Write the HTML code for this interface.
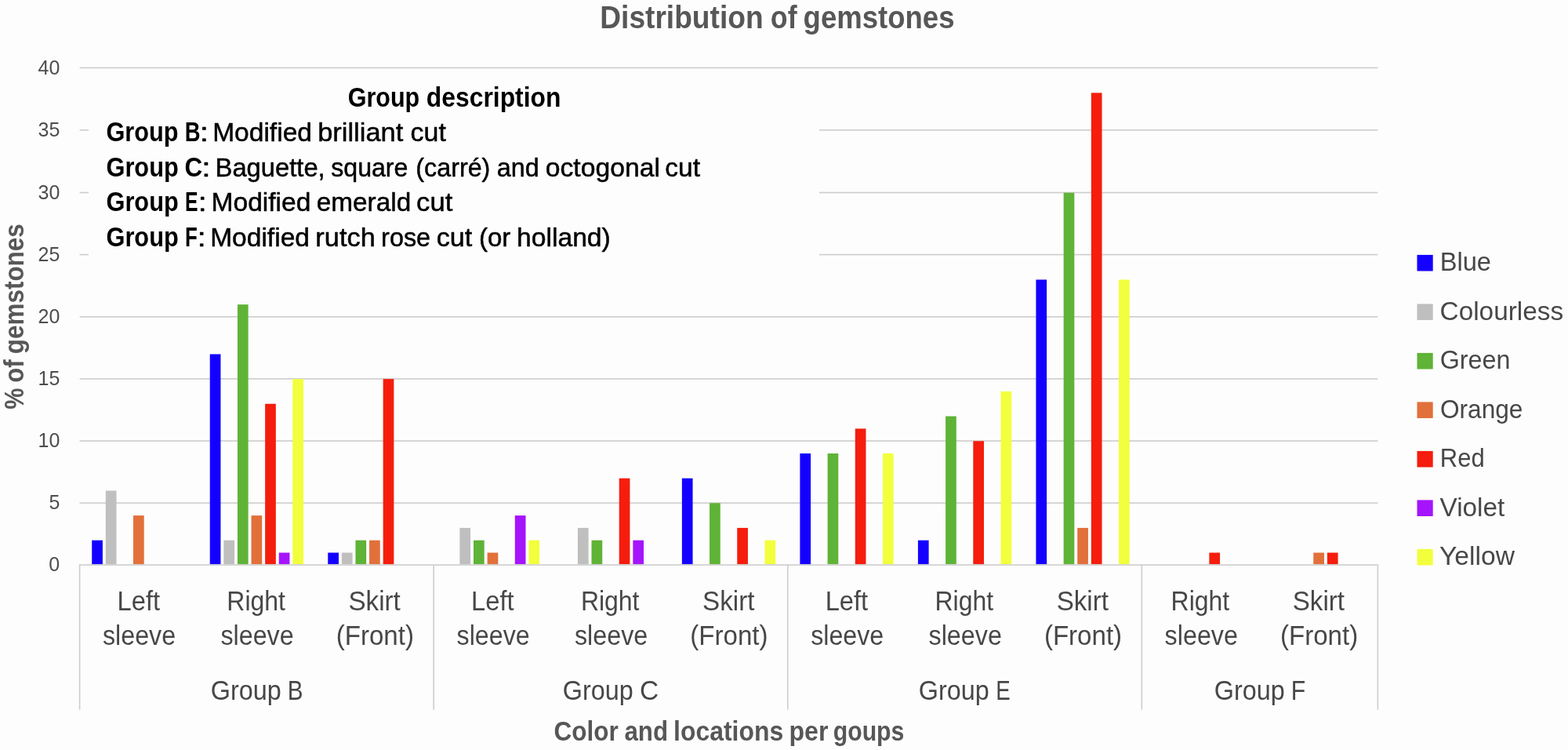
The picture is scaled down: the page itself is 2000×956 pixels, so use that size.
<!DOCTYPE html>
<html lang="en">
<head>
<meta charset="utf-8">
<title>Distribution of gemstones</title>
<style>
html,body{margin:0;padding:0;background:#fdfdfd;}
body{width:2000px;height:956px;overflow:hidden;}
svg{display:block;font-family:"Liberation Sans",Arial,Helvetica,sans-serif;}
text{white-space:pre;}
</style>
</head>
<body>
<svg width="2000" height="956" viewBox="0 0 2000 956">
<rect x="0" y="0" width="2000" height="956" fill="#fdfdfd"/>
<g class="gridlines">
<rect x="101.60" y="640.30" width="1655.80" height="1.60" fill="#cdcdcd"/>
<rect x="101.60" y="561.20" width="1655.80" height="1.60" fill="#cdcdcd"/>
<rect x="101.60" y="482.10" width="1655.80" height="1.60" fill="#cdcdcd"/>
<rect x="101.60" y="403.00" width="1655.80" height="1.60" fill="#cdcdcd"/>
<rect x="101.60" y="323.80" width="1655.80" height="1.60" fill="#cdcdcd"/>
<rect x="101.60" y="244.70" width="1655.80" height="1.60" fill="#cdcdcd"/>
<rect x="101.60" y="165.00" width="1655.80" height="1.60" fill="#cdcdcd"/>
<rect x="101.60" y="85.60" width="1655.80" height="1.60" fill="#cdcdcd"/>
</g>
<g class="group-description-box">
<rect x="113.00" y="96.00" width="932.00" height="240.00" fill="#fdfdfd"/>
</g>
<g class="bars">
<rect x="117.21" y="688.70" width="13.70" height="30.60" fill="#1400ff"/>
<rect x="134.81" y="625.48" width="13.70" height="93.82" fill="#bfbfbf"/>
<rect x="170.01" y="657.10" width="13.70" height="62.20" fill="#e2703a"/>
<rect x="267.74" y="451.46" width="13.70" height="267.84" fill="#1400ff"/>
<rect x="285.34" y="688.70" width="13.70" height="30.60" fill="#bfbfbf"/>
<rect x="302.94" y="388.16" width="13.70" height="331.14" fill="#5fb336"/>
<rect x="320.54" y="657.10" width="13.70" height="62.20" fill="#e2703a"/>
<rect x="338.14" y="514.74" width="13.70" height="204.56" fill="#f51d0d"/>
<rect x="355.74" y="704.50" width="13.70" height="14.80" fill="#a514fc"/>
<rect x="373.34" y="483.10" width="13.70" height="236.20" fill="#f2ff3c"/>
<rect x="418.27" y="704.50" width="13.70" height="14.80" fill="#1400ff"/>
<rect x="435.87" y="704.50" width="13.70" height="14.80" fill="#bfbfbf"/>
<rect x="453.47" y="688.70" width="13.70" height="30.60" fill="#5fb336"/>
<rect x="471.07" y="688.70" width="13.70" height="30.60" fill="#e2703a"/>
<rect x="488.67" y="483.10" width="13.70" height="236.20" fill="#f51d0d"/>
<rect x="586.40" y="672.90" width="13.70" height="46.40" fill="#bfbfbf"/>
<rect x="604.00" y="688.70" width="13.70" height="30.60" fill="#5fb336"/>
<rect x="621.60" y="704.50" width="13.70" height="14.80" fill="#e2703a"/>
<rect x="656.80" y="657.10" width="13.70" height="62.20" fill="#a514fc"/>
<rect x="674.40" y="688.70" width="13.70" height="30.60" fill="#f2ff3c"/>
<rect x="736.92" y="672.90" width="13.70" height="46.40" fill="#bfbfbf"/>
<rect x="754.52" y="688.70" width="13.70" height="30.60" fill="#5fb336"/>
<rect x="789.72" y="609.66" width="13.70" height="109.64" fill="#f51d0d"/>
<rect x="807.32" y="688.70" width="13.70" height="30.60" fill="#a514fc"/>
<rect x="869.85" y="609.66" width="13.70" height="109.64" fill="#1400ff"/>
<rect x="905.05" y="641.30" width="13.70" height="78.00" fill="#5fb336"/>
<rect x="940.25" y="672.90" width="13.70" height="46.40" fill="#f51d0d"/>
<rect x="975.45" y="688.70" width="13.70" height="30.60" fill="#f2ff3c"/>
<rect x="1020.38" y="578.02" width="13.70" height="141.28" fill="#1400ff"/>
<rect x="1055.58" y="578.02" width="13.70" height="141.28" fill="#5fb336"/>
<rect x="1090.78" y="546.38" width="13.70" height="172.92" fill="#f51d0d"/>
<rect x="1125.98" y="578.02" width="13.70" height="141.28" fill="#f2ff3c"/>
<rect x="1170.90" y="688.70" width="13.70" height="30.60" fill="#1400ff"/>
<rect x="1206.10" y="530.56" width="13.70" height="188.74" fill="#5fb336"/>
<rect x="1241.30" y="562.20" width="13.70" height="157.10" fill="#f51d0d"/>
<rect x="1276.50" y="498.92" width="13.70" height="220.38" fill="#f2ff3c"/>
<rect x="1321.43" y="356.48" width="13.70" height="362.82" fill="#1400ff"/>
<rect x="1356.63" y="245.70" width="13.70" height="473.60" fill="#5fb336"/>
<rect x="1374.23" y="672.90" width="13.70" height="46.40" fill="#e2703a"/>
<rect x="1391.83" y="118.36" width="13.70" height="600.94" fill="#f51d0d"/>
<rect x="1427.03" y="356.48" width="13.70" height="362.82" fill="#f2ff3c"/>
<rect x="1542.36" y="704.50" width="13.70" height="14.80" fill="#f51d0d"/>
<rect x="1675.29" y="704.50" width="13.70" height="14.80" fill="#e2703a"/>
<rect x="1692.89" y="704.50" width="13.70" height="14.80" fill="#f51d0d"/>
</g>
<g class="axis-lines">
<rect x="100.80" y="719.30" width="1657.40" height="1.60" fill="#cdcdcd"/>
<rect x="100.80" y="720.10" width="1.60" height="184.50" fill="#cdcdcd"/>
<rect x="552.38" y="720.10" width="1.60" height="184.50" fill="#cdcdcd"/>
<rect x="1003.96" y="720.10" width="1.60" height="184.50" fill="#cdcdcd"/>
<rect x="1455.55" y="720.10" width="1.60" height="184.50" fill="#cdcdcd"/>
<rect x="1756.60" y="720.10" width="1.60" height="184.50" fill="#cdcdcd"/>
</g>
<g class="chart-title">
<text font-size="40.3" fill="#575757" font-weight="700" y="36.3"><tspan x="765.27" textLength="208.32" lengthAdjust="spacingAndGlyphs">Distribution</tspan> <tspan x="982.87" textLength="33.77" lengthAdjust="spacingAndGlyphs">of</tspan> <tspan x="1024.61" textLength="192.87" lengthAdjust="spacingAndGlyphs">gemstones</tspan></text>
</g>
<g class="y-axis-labels">
<text font-size="25.0" fill="#4d4d4d" y="728.2"><tspan x="62.3">0</tspan></text>
<text font-size="25.0" fill="#4d4d4d" y="649.2"><tspan x="62.55">5</tspan></text>
<text font-size="25.0" fill="#4d4d4d" y="570.1"><tspan x="48.55">10</tspan></text>
<text font-size="25.0" fill="#4d4d4d" y="491"><tspan x="48.55">15</tspan></text>
<text font-size="25.0" fill="#4d4d4d" y="411.9"><tspan x="48.55">20</tspan></text>
<text font-size="25.0" fill="#4d4d4d" y="332.7"><tspan x="48.55">25</tspan></text>
<text font-size="25.0" fill="#4d4d4d" y="253.6"><tspan x="48.55">30</tspan></text>
<text font-size="25.0" fill="#4d4d4d" y="173.9"><tspan x="48.55">35</tspan></text>
<text font-size="25.0" fill="#4d4d4d" y="94.5"><tspan x="48.55">40</tspan></text>
</g>
<g class="group-description">
<text font-size="34.5" fill="#000" font-weight="700" y="135.6"><tspan x="443.67" textLength="91.54" lengthAdjust="spacingAndGlyphs">Group</tspan> <tspan x="543.82" textLength="171.62" lengthAdjust="spacingAndGlyphs">description</tspan></text>
<text font-size="34.5" fill="#000" y="180.05"><tspan x="135.46" textLength="92.16" lengthAdjust="spacingAndGlyphs" font-weight="700">Group</tspan> <tspan x="235.71" textLength="19.82" lengthAdjust="spacingAndGlyphs" font-weight="700">B</tspan><tspan x="254.63" textLength="11.60" lengthAdjust="spacingAndGlyphs" font-size="34.0" stroke="#000" stroke-width="0.5" stroke-linejoin="round">:</tspan> <tspan x="271.13" textLength="126.86" lengthAdjust="spacingAndGlyphs" font-size="34.0" stroke="#000" stroke-width="0.5" stroke-linejoin="round">Modified</tspan> <tspan x="405.17" textLength="109.20" lengthAdjust="spacingAndGlyphs" font-size="34.0" stroke="#000" stroke-width="0.5" stroke-linejoin="round">brilliant</tspan> <tspan x="523.55" textLength="45.31" lengthAdjust="spacingAndGlyphs" font-size="34.0" stroke="#000" stroke-width="0.5" stroke-linejoin="round">cut</tspan></text>
<text font-size="34.5" fill="#000" y="224.55"><tspan x="135.46" textLength="92.26" lengthAdjust="spacingAndGlyphs" font-weight="700">Group</tspan> <tspan x="235.53" textLength="22.71" lengthAdjust="spacingAndGlyphs" font-weight="700">C</tspan><tspan x="256.95" textLength="11.85" lengthAdjust="spacingAndGlyphs" font-size="34.0" stroke="#000" stroke-width="0.5" stroke-linejoin="round">:</tspan> <tspan x="274.59" textLength="140.11" lengthAdjust="spacingAndGlyphs" font-size="34.0" stroke="#000" stroke-width="0.5" stroke-linejoin="round">Baguette,</tspan> <tspan x="422.19" textLength="98.26" lengthAdjust="spacingAndGlyphs" font-size="34.0" stroke="#000" stroke-width="0.5" stroke-linejoin="round">square</tspan> <tspan x="530.34" textLength="95.03" lengthAdjust="spacingAndGlyphs" font-size="34.0" stroke="#000" stroke-width="0.5" stroke-linejoin="round">(carré)</tspan> <tspan x="633.81" textLength="54.08" lengthAdjust="spacingAndGlyphs" font-size="34.0" stroke="#000" stroke-width="0.5" stroke-linejoin="round">and</tspan> <tspan x="695.76" textLength="146.19" lengthAdjust="spacingAndGlyphs" font-size="34.0" stroke="#000" stroke-width="0.5" stroke-linejoin="round">octogonal</tspan> <tspan x="848.37" textLength="44.69" lengthAdjust="spacingAndGlyphs" font-size="34.0" stroke="#000" stroke-width="0.5" stroke-linejoin="round">cut</tspan></text>
<text font-size="34.5" fill="#000" y="269.1"><tspan x="135.46" textLength="92.26" lengthAdjust="spacingAndGlyphs" font-weight="700">Group</tspan> <tspan x="236.08" textLength="16.52" lengthAdjust="spacingAndGlyphs" font-weight="700">E</tspan><tspan x="252.6" textLength="11.34" lengthAdjust="spacingAndGlyphs" font-size="34.0" stroke="#000" stroke-width="0.5" stroke-linejoin="round">:</tspan> <tspan x="269.53" textLength="126.86" lengthAdjust="spacingAndGlyphs" font-size="34.0" stroke="#000" stroke-width="0.5" stroke-linejoin="round">Modified</tspan> <tspan x="403.77" textLength="120.43" lengthAdjust="spacingAndGlyphs" font-size="34.0" stroke="#000" stroke-width="0.5" stroke-linejoin="round">emerald</tspan> <tspan x="531.13" textLength="46.13" lengthAdjust="spacingAndGlyphs" font-size="34.0" stroke="#000" stroke-width="0.5" stroke-linejoin="round">cut</tspan></text>
<text font-size="34.5" fill="#000" y="313.55"><tspan x="135.46" textLength="92.26" lengthAdjust="spacingAndGlyphs" font-weight="700">Group</tspan> <tspan x="236.02" textLength="15.78" lengthAdjust="spacingAndGlyphs" font-weight="700">F</tspan><tspan x="251.6" textLength="11.34" lengthAdjust="spacingAndGlyphs" font-size="34.0" stroke="#000" stroke-width="0.5" stroke-linejoin="round">:</tspan> <tspan x="268.13" textLength="126.86" lengthAdjust="spacingAndGlyphs" font-size="34.0" stroke="#000" stroke-width="0.5" stroke-linejoin="round">Modified</tspan> <tspan x="402.38" textLength="76.49" lengthAdjust="spacingAndGlyphs" font-size="34.0" stroke="#000" stroke-width="0.5" stroke-linejoin="round">rutch</tspan> <tspan x="486.1" textLength="62.99" lengthAdjust="spacingAndGlyphs" font-size="34.0" stroke="#000" stroke-width="0.5" stroke-linejoin="round">rose</tspan> <tspan x="556.74" textLength="45.62" lengthAdjust="spacingAndGlyphs" font-size="34.0" stroke="#000" stroke-width="0.5" stroke-linejoin="round">cut</tspan> <tspan x="610.9" textLength="40.41" lengthAdjust="spacingAndGlyphs" font-size="34.0" stroke="#000" stroke-width="0.5" stroke-linejoin="round">(or</tspan> <tspan x="658.92" textLength="119.95" lengthAdjust="spacingAndGlyphs" font-size="34.0" stroke="#000" stroke-width="0.5" stroke-linejoin="round">holland)</tspan></text>
</g>
<g class="legend">
<rect x="1807.50" y="324.90" width="20.20" height="20.60" fill="#1400ff"/>
<text font-size="34.1" fill="#474747" y="345"><tspan x="1836.67" textLength="65.34" lengthAdjust="spacingAndGlyphs">Blue</tspan></text>
<rect x="1807.50" y="387.40" width="20.20" height="20.60" fill="#bfbfbf"/>
<text font-size="34.1" fill="#474747" y="407.5"><tspan x="1836.59" textLength="157.54" lengthAdjust="spacingAndGlyphs">Colourless</tspan></text>
<rect x="1807.50" y="449.90" width="20.20" height="20.60" fill="#5fb336"/>
<text font-size="34.1" fill="#474747" y="470"><tspan x="1836.64" textLength="89.76" lengthAdjust="spacingAndGlyphs">Green</tspan></text>
<rect x="1807.50" y="512.40" width="20.20" height="20.60" fill="#e2703a"/>
<text font-size="34.1" fill="#474747" y="532.5"><tspan x="1836.91" textLength="105.51" lengthAdjust="spacingAndGlyphs">Orange</tspan></text>
<rect x="1807.50" y="574.90" width="20.20" height="20.60" fill="#f51d0d"/>
<text font-size="34.1" fill="#474747" y="595"><tspan x="1836.8" textLength="56.86" lengthAdjust="spacingAndGlyphs">Red</tspan></text>
<rect x="1807.50" y="637.40" width="20.20" height="20.60" fill="#a514fc"/>
<text font-size="34.1" fill="#474747" y="657.5"><tspan x="1836.56" textLength="82.78" lengthAdjust="spacingAndGlyphs">Violet</tspan></text>
<rect x="1807.50" y="699.90" width="20.20" height="20.60" fill="#f2ff3c"/>
<text font-size="34.1" fill="#474747" y="720"><tspan x="1836.06" textLength="95.85" lengthAdjust="spacingAndGlyphs">Yellow</tspan></text>
</g>
<g class="category-labels">
<text font-size="34.2" fill="#474747" y="777.6"><tspan x="149.48" y="777.6" textLength="54.60" lengthAdjust="spacingAndGlyphs">Left</tspan> <tspan x="131.02" y="822.2" textLength="93.03" lengthAdjust="spacingAndGlyphs">sleeve</tspan></text>
<text font-size="34.2" fill="#474747" y="777.6"><tspan x="289.37" y="777.6" textLength="74.56" lengthAdjust="spacingAndGlyphs">Right</tspan> <tspan x="281.4" y="822.2" textLength="93.33" lengthAdjust="spacingAndGlyphs">sleeve</tspan></text>
<text font-size="34.2" fill="#474747" y="777.6"><tspan x="444.47" y="777.6" textLength="66.36" lengthAdjust="spacingAndGlyphs">Skirt</tspan> <tspan x="428.73" y="822.2" textLength="99.23" lengthAdjust="spacingAndGlyphs">(Front)</tspan></text>
<text font-size="34.2" fill="#474747" y="777.6"><tspan x="601.06" y="777.6" textLength="54.60" lengthAdjust="spacingAndGlyphs">Left</tspan> <tspan x="582.6" y="822.2" textLength="93.03" lengthAdjust="spacingAndGlyphs">sleeve</tspan></text>
<text font-size="34.2" fill="#474747" y="777.6"><tspan x="740.95" y="777.6" textLength="74.56" lengthAdjust="spacingAndGlyphs">Right</tspan> <tspan x="732.98" y="822.2" textLength="93.33" lengthAdjust="spacingAndGlyphs">sleeve</tspan></text>
<text font-size="34.2" fill="#474747" y="777.6"><tspan x="896.05" y="777.6" textLength="66.36" lengthAdjust="spacingAndGlyphs">Skirt</tspan> <tspan x="880.31" y="822.2" textLength="99.23" lengthAdjust="spacingAndGlyphs">(Front)</tspan></text>
<text font-size="34.2" fill="#474747" y="777.6"><tspan x="1052.64" y="777.6" textLength="54.60" lengthAdjust="spacingAndGlyphs">Left</tspan> <tspan x="1034.19" y="822.2" textLength="93.03" lengthAdjust="spacingAndGlyphs">sleeve</tspan></text>
<text font-size="34.2" fill="#474747" y="777.6"><tspan x="1192.54" y="777.6" textLength="74.56" lengthAdjust="spacingAndGlyphs">Right</tspan> <tspan x="1184.56" y="822.2" textLength="93.33" lengthAdjust="spacingAndGlyphs">sleeve</tspan></text>
<text font-size="34.2" fill="#474747" y="777.6"><tspan x="1347.63" y="777.6" textLength="66.36" lengthAdjust="spacingAndGlyphs">Skirt</tspan> <tspan x="1331.9" y="822.2" textLength="99.23" lengthAdjust="spacingAndGlyphs">(Front)</tspan></text>
<text font-size="34.2" fill="#474747" y="777.6"><tspan x="1493.59" y="777.6" textLength="74.56" lengthAdjust="spacingAndGlyphs">Right</tspan> <tspan x="1485.61" y="822.2" textLength="93.33" lengthAdjust="spacingAndGlyphs">sleeve</tspan></text>
<text font-size="34.2" fill="#474747" y="777.6"><tspan x="1648.69" y="777.6" textLength="66.36" lengthAdjust="spacingAndGlyphs">Skirt</tspan> <tspan x="1632.95" y="822.2" textLength="99.23" lengthAdjust="spacingAndGlyphs">(Front)</tspan></text>
</g>
<g class="group-labels">
<text font-size="34.2" fill="#474747" y="892.1"><tspan x="268.84" textLength="89.90" lengthAdjust="spacingAndGlyphs">Group</tspan> <tspan x="366.82" textLength="19.75" lengthAdjust="spacingAndGlyphs">B</tspan></text>
<text font-size="34.2" fill="#474747" y="892.1"><tspan x="717.84" textLength="89.90" lengthAdjust="spacingAndGlyphs">Group</tspan> <tspan x="815.89" textLength="24.13" lengthAdjust="spacingAndGlyphs">C</tspan></text>
<text font-size="34.2" fill="#474747" y="892.1"><tspan x="1171.74" textLength="89.90" lengthAdjust="spacingAndGlyphs">Group</tspan> <tspan x="1270.17" textLength="18.50" lengthAdjust="spacingAndGlyphs">E</tspan></text>
<text font-size="34.2" fill="#474747" y="892.1"><tspan x="1548.84" textLength="89.90" lengthAdjust="spacingAndGlyphs">Group</tspan> <tspan x="1646.77" textLength="18.46" lengthAdjust="spacingAndGlyphs">F</tspan></text>
</g>
<g class="axis-titles">
<text font-size="34.3" fill="#575757" font-weight="700" y="943.8"><tspan x="706.42" textLength="82.28" lengthAdjust="spacingAndGlyphs">Color</tspan> <tspan x="796.49" textLength="55.55" lengthAdjust="spacingAndGlyphs">and</tspan> <tspan x="859.07" textLength="140.15" lengthAdjust="spacingAndGlyphs">locations</tspan> <tspan x="1006.5" textLength="49.89" lengthAdjust="spacingAndGlyphs">per</tspan> <tspan x="1062.68" textLength="90.74" lengthAdjust="spacingAndGlyphs">goups</tspan></text>
<text font-size="34.3" fill="#575757" font-weight="700" transform="translate(30 0) rotate(-90)" y="0"><tspan x="-521.67" textLength="27.16" lengthAdjust="spacingAndGlyphs">%</tspan> <tspan x="-487.63" textLength="29.32" lengthAdjust="spacingAndGlyphs">of</tspan> <tspan x="-451.28" textLength="166.09" lengthAdjust="spacingAndGlyphs">gemstones</tspan></text>
</g>
</svg>
</body>
</html>
